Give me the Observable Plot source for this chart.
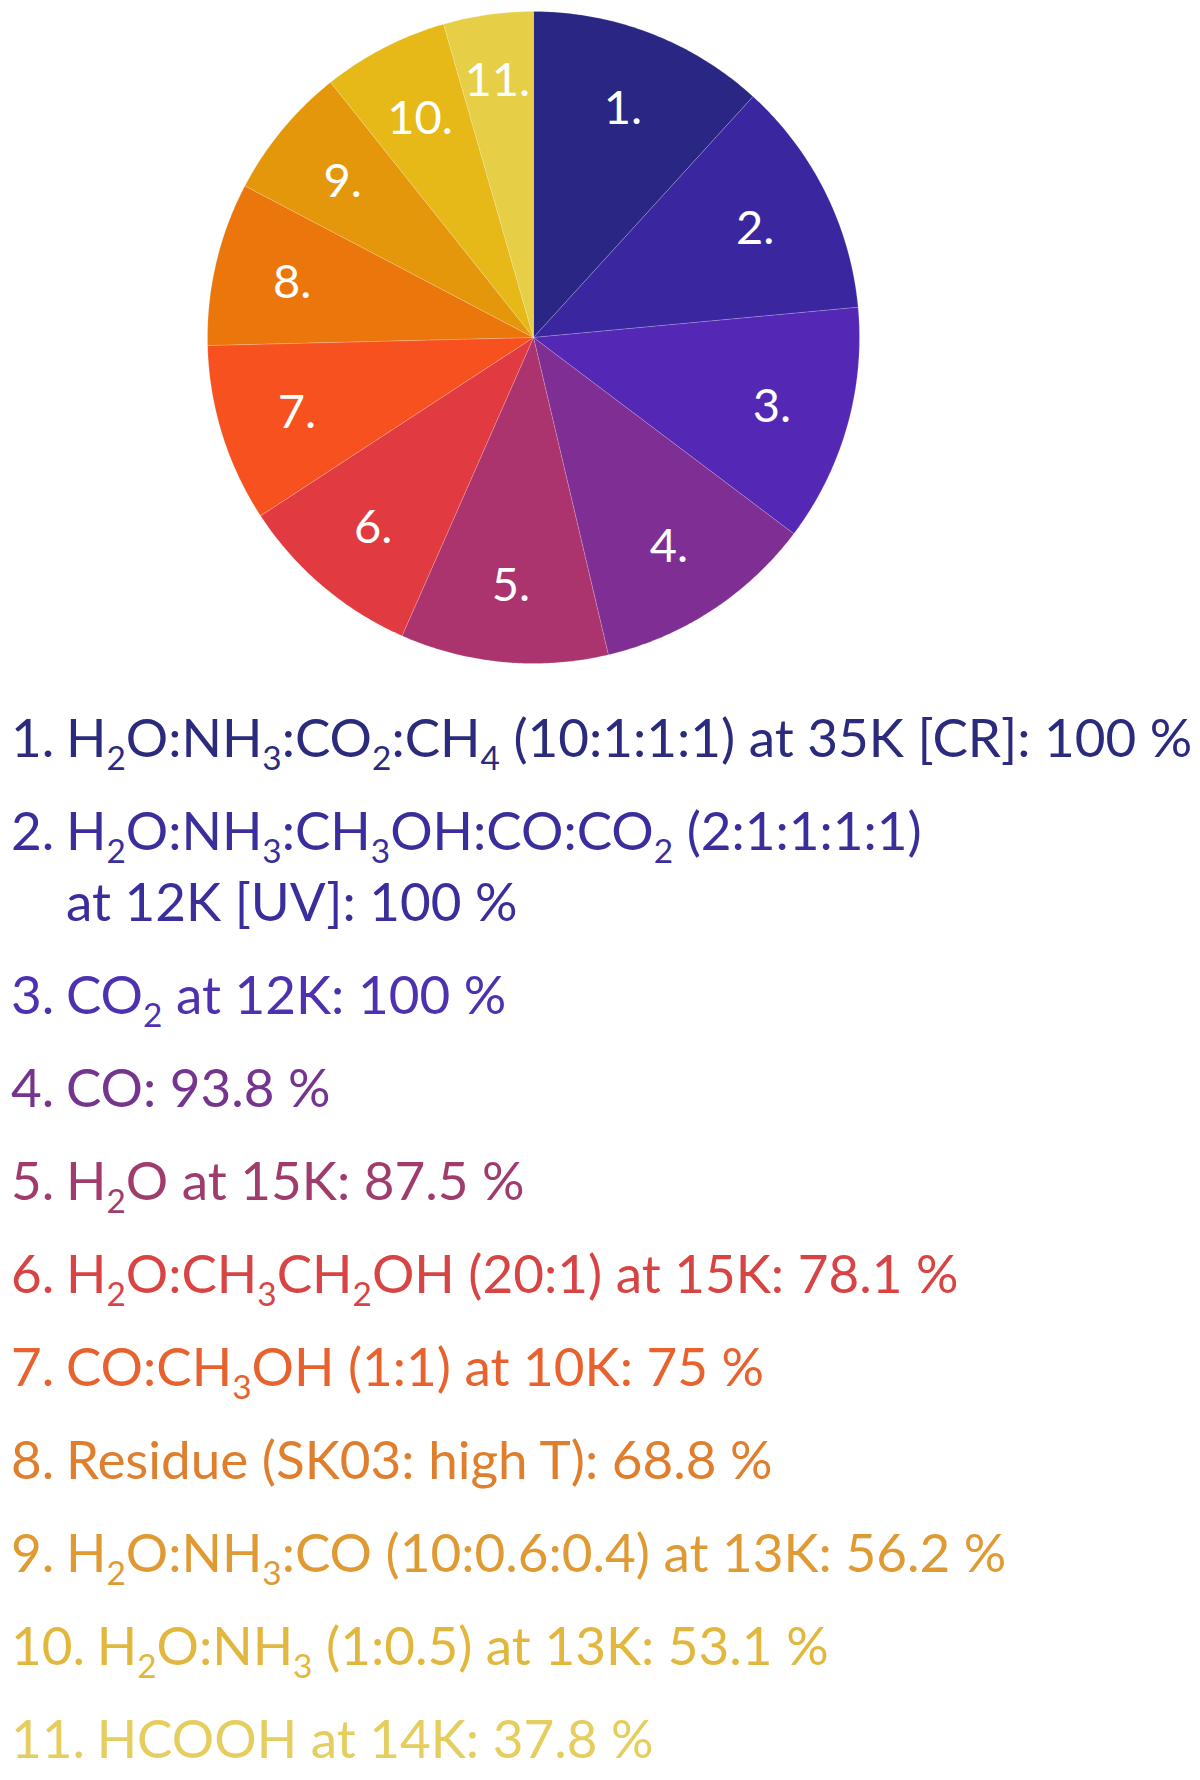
<!DOCTYPE html>
<html><head><meta charset="utf-8">
<script src="https://cdn.jsdelivr.net/npm/d3@7"></script>
<script src="https://cdn.jsdelivr.net/npm/@observablehq/plot@0.6"></script>
<style>
body{margin:0;background:#fff;font-family:Lato,"Open Sans",sans-serif;}
#chart{width:1200px;}
#legend{padding-top:21px;}
.item{display:flex;align-items:flex-start;white-space:nowrap;font-size:53px;line-height:71px;margin-bottom:22px;margin-left:11px;}
.num{margin-right:0.22em;}
.body{white-space:pre-line;}
sub{font-size:0.63em;vertical-align:baseline;position:relative;top:0.38em;line-height:0;}
</style></head><body>
<div id="chart"></div>
<div id="legend"></div>
<script>
// ---- data ----
const labels = ["1.","2.","3.","4.","5.","6.","7.","8.","9.","10.","11."];
const values = [100, 100, 100, 93.8, 87.5, 78.1, 75, 68.8, 56.2, 53.1, 37.8];
const descriptions = [
  "H<sub>2</sub>O:NH<sub>3</sub>:CO<sub>2</sub>:CH<sub>4</sub> (10:1:1:1) at 35K [CR]: 100 %",
  "H<sub>2</sub>O:NH<sub>3</sub>:CH<sub>3</sub>OH:CO:CO<sub>2</sub> (2:1:1:1:1)\nat 12K [UV]: 100 %",
  "CO<sub>2</sub> at 12K: 100 %",
  "CO: 93.8 %",
  "H<sub>2</sub>O at 15K: 87.5 %",
  "H<sub>2</sub>O:CH<sub>3</sub>CH<sub>2</sub>OH (20:1) at 15K: 78.1 %",
  "CO:CH<sub>3</sub>OH (1:1) at 10K: 75 %",
  "Residue (SK03: high T): 68.8 %",
  "H<sub>2</sub>O:NH<sub>3</sub>:CO (10:0.6:0.4) at 13K: 56.2 %",
  "H<sub>2</sub>O:NH<sub>3</sub> (1:0.5) at 13K: 53.1 %",
  "HCOOH at 14K: 37.8 %"
];
const sliceColors = ["#2a2784","#3a27a0","#5428b5","#7f2f94","#ab346e","#e13b41","#f6511f","#eb760b","#e4970b","#e6b818","#e6cf47"];
const textColors  = ["#2b2a7c","#3a2e9c","#4e31b0","#75358e","#a03c6c","#d84444","#e8622e","#df7f2e","#df9a33","#e2b73e","#e5cd5e"];

// ---- geometry from data ----
const arcs = d3.pie().sort(null).value(d => d)(values);
const polys = [];
arcs.forEach((a, i) => {
  const n = Math.max(4, Math.ceil((a.endAngle - a.startAngle) / (Math.PI / 360)));
  polys.push({x: 0, y: 0, label: labels[i]});
  for (let j = 0; j <= n; j++) {
    const t = a.startAngle + (a.endAngle - a.startAngle) * j / n;
    polys.push({x: Math.sin(t), y: Math.cos(t), label: labels[i]});
  }
  polys.push({x: 0, y: 0, label: labels[i]});
});
const labelPts = arcs.map((a, i) => {
  const m = (a.startAngle + a.endAngle) / 2;
  const r = i === arcs.length - 1 ? 0.8 : 0.76;
  return {x: r * Math.sin(m), y: r * Math.cos(m), label: labels[i]};
});

const R = 326, cx = 533, cy = 337, W = 1200, H = 680;
const plot = Plot.plot({
  width: W, height: H,
  marginLeft: cx - R, marginRight: W - cx - R,
  marginTop: cy - R, marginBottom: H - cy - R,
  x: {domain: [-1, 1], axis: null},
  y: {domain: [-1, 1], axis: null},
  color: {type: "ordinal", domain: labels, range: sliceColors},
  style: {fontFamily: "Lato, 'Open Sans', sans-serif", background: "white"},
  marks: [
    Plot.line(polys, {x: "x", y: "y", z: "label", fill: "label", stroke: "white", strokeOpacity: 0.25, strokeWidth: 0.7, curve: "linear"}),
    Plot.text(labelPts, {x: "x", y: "y", text: "label", fill: "white", fontSize: 47, textAnchor: "middle", dy: 2})
  ]
});
document.getElementById("chart").appendChild(plot);

const legend = document.getElementById("legend");
labels.forEach((l, i) => {
  const div = document.createElement("div");
  div.className = "item";
  div.style.color = textColors[i];
  div.innerHTML = `<span class="num">${l}</span><span class="body">${descriptions[i]}</span>`;
  legend.appendChild(div);
});
</script>
</body></html>
